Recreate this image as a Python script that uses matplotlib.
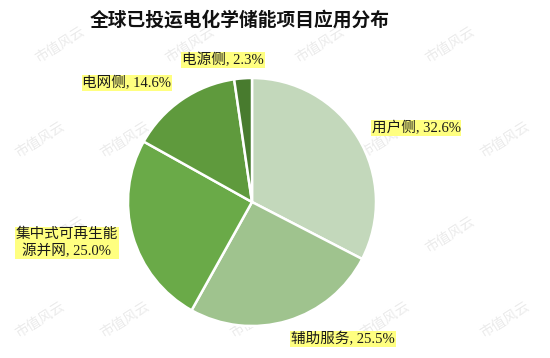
import matplotlib
matplotlib.use("Agg")
import matplotlib.pyplot as plt

title = "全球已投运电化学储能项目应用分布"
categories = ["用户侧", "辅助服务", "集中式可再生能源并网", "电网侧", "电源侧"]
values = [32.6, 25.5, 25.0, 14.6, 2.3]
colors = ["#c3d8bb", "#9fc38e", "#6aaa48", "#5f9a3d", "#487b2e"]

# label anchor positions in pixel space (x from left, y from top)
label_pos = [(416, 128), (343, 339), (67, 243), (127, 83), (223, 60)]

W, H = 550, 358
fig = plt.figure(figsize=(W / 100, H / 100), dpi=100)
ax = fig.add_axes([0, 0, 1, 1])
ax.set_xlim(0, W)
ax.set_ylim(0, H)
ax.set_aspect("equal")
ax.axis("off")

# watermark (kept inside the canvas)
wm_rows = [(45, [60, 190, 320, 450]), (140, [40, 125, 255, 385, 505]),
           (235, [60, 190, 320, 450]), (320, [40, 125, 255, 385, 505])]
for wy, xs in wm_rows:
    for wx in xs:
        ax.text(wx, H - wy, "市值风云", fontsize=10,
                family=["Noto Sans CJK SC"], color="#ebebeb", rotation=32,
                ha="center", va="center", zorder=0)

ax.pie(values, colors=colors, startangle=90, counterclock=False,
       center=(252, H - 202), radius=124,
       wedgeprops=dict(edgecolor="white", linewidth=1.8), frame=True)
ax.set_xlim(0, W)
ax.set_ylim(0, H)
ax.axis("off")

fam = ["Liberation Serif", "Noto Sans CJK SC"]
for cat, val, (px, py) in zip(categories, values, label_pos):
    name = cat
    if cat == "集中式可再生能源并网":
        name = "集中式可再生能\n源并网"
    ax.text(px, H - py, f"{name}, {val:.1f}%", family=fam, fontsize=10.5,
            ha="center", va="center", color="#1a1a1a", linespacing=1.2,
            bbox=dict(boxstyle="square,pad=0.05", fc="#ffff80", ec="none"),
            zorder=5)

ax.text(240, H - 20, title, family=["Noto Sans CJK SC"], fontsize=13.5,
        fontweight="bold", ha="center", va="center", color="#111111")

fig.savefig("out.png", dpi=100)
